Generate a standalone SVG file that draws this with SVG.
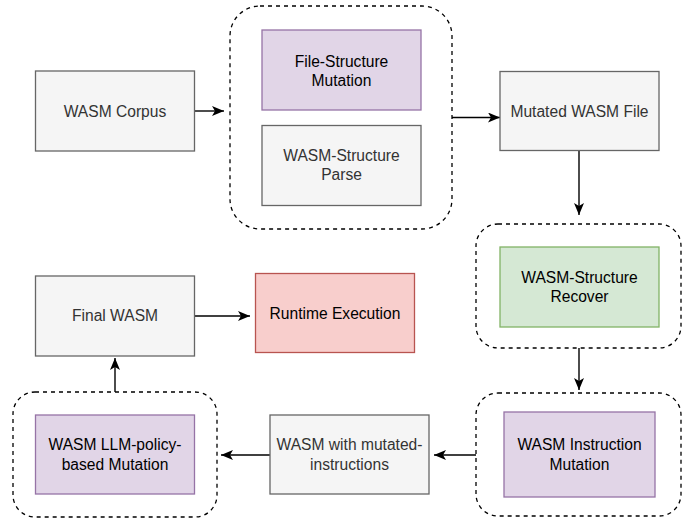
<svg xmlns="http://www.w3.org/2000/svg" width="697" height="518" viewBox="0 0 697 518">
  <style>
    .gray { fill: #f5f5f5; stroke: #666666; stroke-width: 1.3; }
    .purple { fill: #e1d5e7; stroke: #9673a6; stroke-width: 1.3; }
    .green { fill: #d5e8d4; stroke: #82b366; stroke-width: 1.3; }
    .red { fill: #f8cecc; stroke: #b85450; stroke-width: 1.3; }
    .group { fill: none; stroke: #000000; stroke-width: 1.3; stroke-dasharray: 4 4; }
    .edge { fill: none; stroke: #000000; stroke-width: 1.4; marker-end: url(#arrow); }
    text { font-family: "Liberation Sans", Arial, Helvetica, sans-serif; font-size: 15.6px; text-anchor: middle; }
    .t-gray { fill: #333333; }
    .t-dark { fill: #000000; }
  </style>
  <defs>
    <marker id="arrow" viewBox="0 0 12 10" refX="12" refY="5" markerWidth="12" markerHeight="10" markerUnits="userSpaceOnUse" orient="auto">
      <path d="M0,0 L12,5 L0,10 L3,5 Z" fill="#000000"/>
    </marker>
  </defs>

  <!-- dashed grouping frames -->
  <g id="frames">
    <rect class="group" x="230" y="6" width="222" height="223" rx="30" ry="30"/>
    <rect class="group" x="476" y="224" width="205" height="124" rx="22" ry="22"/>
    <rect class="group" x="476" y="393" width="205" height="123" rx="22" ry="22"/>
    <rect class="group" x="13" y="392" width="204" height="125" rx="22" ry="22"/>
  </g>

  <!-- connectors -->
  <g id="connectors">
    <path class="edge" d="M194.5,111 L224,111"/>
    <path class="edge" d="M452,117.5 L500,117.5"/>
    <path class="edge" d="M579,151 L579,215"/>
    <path class="edge" d="M579,348 L579,390"/>
    <path class="edge" d="M476,455 L434,455"/>
    <path class="edge" d="M270,455 L221,455"/>
    <path class="edge" d="M115,392 L115,358"/>
    <path class="edge" d="M194.5,316 L250,316"/>
  </g>

  <g id="wasm-corpus">
    <rect class="gray" x="35.5" y="71" width="159" height="80"/>
    <text class="t-gray" x="115" y="116.5">WASM Corpus</text>
  </g>

  <g id="file-structure-mutation">
    <rect class="purple" x="262" y="30" width="159" height="80"/>
    <text class="t-dark" x="341.5" y="66.5">File-Structure</text>
    <text class="t-dark" x="341.5" y="85.5">Mutation</text>
  </g>

  <g id="wasm-structure-parse">
    <rect class="gray" x="262" y="125.5" width="159" height="80"/>
    <text class="t-gray" x="341.5" y="161">WASM-Structure</text>
    <text class="t-gray" x="341.5" y="180">Parse</text>
  </g>

  <g id="mutated-wasm-file">
    <rect class="gray" x="500" y="71.5" width="159" height="79"/>
    <text class="t-gray" x="579.5" y="116.5">Mutated WASM File</text>
  </g>

  <g id="wasm-structure-recover">
    <rect class="green" x="500" y="247" width="159" height="80"/>
    <text class="t-dark" x="579.5" y="282.5">WASM-Structure</text>
    <text class="t-dark" x="579.5" y="302">Recover</text>
  </g>

  <g id="wasm-instruction-mutation">
    <rect class="purple" x="504" y="412" width="151" height="85"/>
    <text class="t-dark" x="579.5" y="450">WASM Instruction</text>
    <text class="t-dark" x="579.5" y="469.5">Mutation</text>
  </g>

  <g id="wasm-with-mutated-instructions">
    <rect class="gray" x="270" y="415" width="159" height="79"/>
    <text class="t-gray" x="349.5" y="450">WASM with mutated-</text>
    <text class="t-gray" x="349.5" y="469.5">instructions</text>
  </g>

  <g id="wasm-llm-policy-mutation">
    <rect class="purple" x="35.5" y="415" width="159" height="79"/>
    <text class="t-dark" x="115" y="450">WASM LLM-policy-</text>
    <text class="t-dark" x="115" y="469.5">based Mutation</text>
  </g>

  <g id="final-wasm">
    <rect class="gray" x="35.5" y="276" width="159" height="80"/>
    <text class="t-gray" x="115" y="320.5">Final WASM</text>
  </g>

  <g id="runtime-execution">
    <rect class="red" x="255.5" y="273.5" width="159" height="79"/>
    <text class="t-dark" x="335" y="318.5">Runtime Execution</text>
  </g>
</svg>
